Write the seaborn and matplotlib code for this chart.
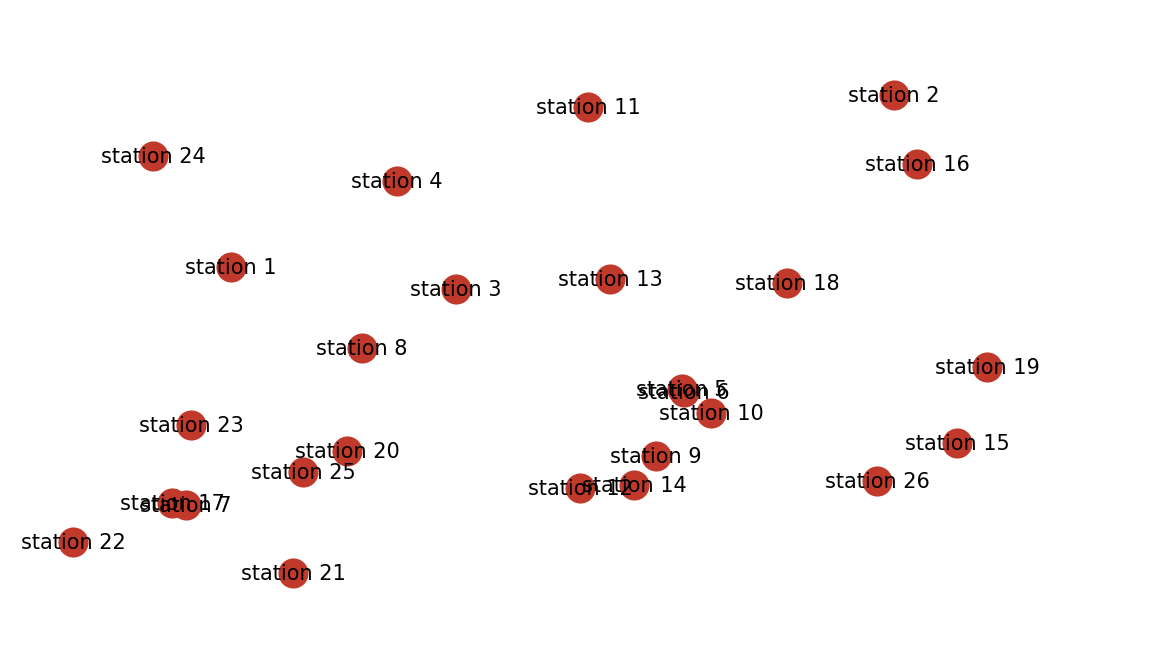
"""
Station layout - node positions with labels, no axes.
"""

import matplotlib
matplotlib.use("Agg")
import matplotlib.pyplot as plt
import pandas as pd
import seaborn as sns

stations = [f"station {i}" for i in range(1, 27)]
pos_x = [231, 894, 456, 397, 682, 684, 186, 362, 656, 711, 588, 580, 610,
         634, 957, 917, 172, 787, 987, 347, 293, 73, 191, 153, 303, 877]
pos_y = [267, 95, 289, 181, 389, 392, 505, 348, 456, 413, 107, 488, 279,
         485, 443, 164, 503, 283, 367, 451, 573, 542, 425, 156, 472, 481]

NODE_COLOR = "#c0392b"


def main():
    sns.set_style("white")
    plt.rcParams["font.family"] = ["DejaVu Sans"]
    df = pd.DataFrame({"station": stations, "x": pos_x, "y": pos_y})

    fig = plt.figure(figsize=(11.52, 6.52), dpi=100)
    ax = fig.add_axes([0, 0, 1, 1])

    sns.scatterplot(data=df, x="x", y="y", s=470, color=NODE_COLOR,
                    edgecolor=NODE_COLOR, linewidth=0, ax=ax, zorder=2)

    for _, row in df.iterrows():
        ax.text(row["x"], row["y"] + 1, row["station"], fontsize=15,
                ha="center", va="center", color="black", zorder=3)

    ax.set_xlim(0, 1152)
    ax.set_ylim(652, 0)
    ax.axis("off")

    fig.savefig("out.png", dpi=100)
    plt.close(fig)


if __name__ == "__main__":
    main()
